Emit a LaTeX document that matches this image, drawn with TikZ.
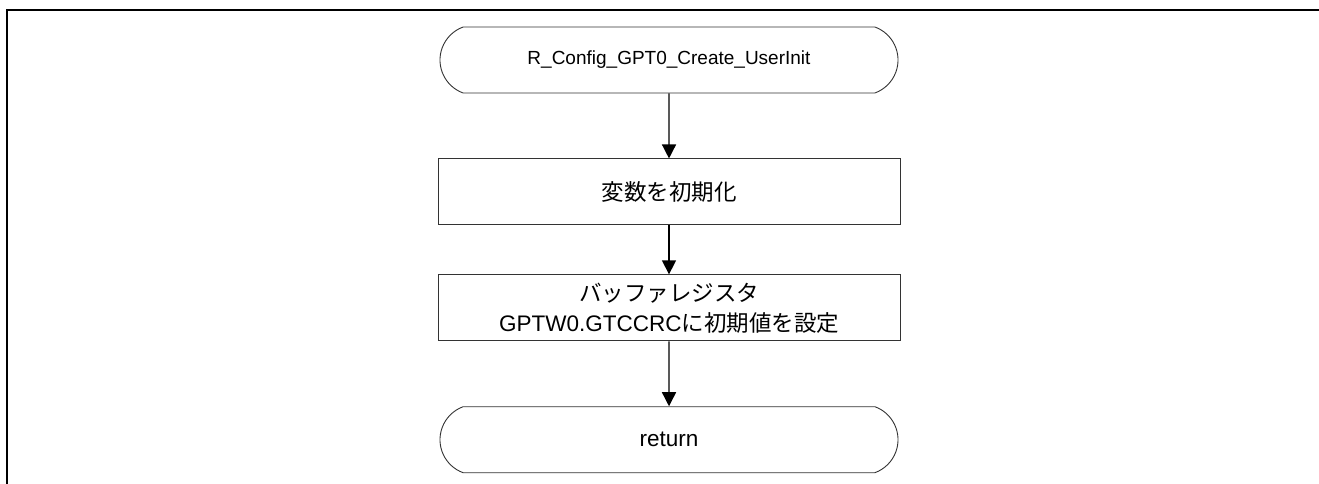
\documentclass[tikz,border=0pt]{standalone}
\usepackage{fontspec}
\setmainfont{Liberation Sans}
\newfontfamily\jpfont{Noto Sans CJK JP}
\usetikzlibrary{positioning,arrows.meta,shapes.misc}

\begin{document}
\begin{tikzpicture}[
  x=1pt,y=-1pt,
  font=\fontsize{22.5}{30}\selectfont,
  box/.style={draw=black!80,line width=0.9pt,minimum width=462pt,minimum height=66pt,
              align=center,inner sep=2pt},
  term/.style={box,rounded rectangle,rounded rectangle arc length=140},
  proc/.style={box,rectangle},
  arr/.style={-{Triangle[width=14pt,length=14pt]},line width=1.4pt},
  node distance=65pt
]
\useasboundingbox (0,0) rectangle (1319,484);
\draw[line width=2pt] (7,484) -- (7,10) -- (1319,10);
\node[term,font=\fontsize{19}{24}\selectfont] (start) at (669,60) {R\_Config\_GPT0\_Create\_UserInit};
\node[proc,below=of start] (init) {\jpfont 変数を初期化};
\node[proc,below=49pt of init] (bufreg) {{\jpfont バッファレジスタ}\\GPTW0.GTCCRC{\jpfont に初期値を設定}};
\node[term,below=of bufreg] (ret) {return};
\foreach \src/\dst in {start/init, init/bufreg, bufreg/ret}
  \draw[arr] (\src) -- (\dst);
\end{tikzpicture}
\end{document}
